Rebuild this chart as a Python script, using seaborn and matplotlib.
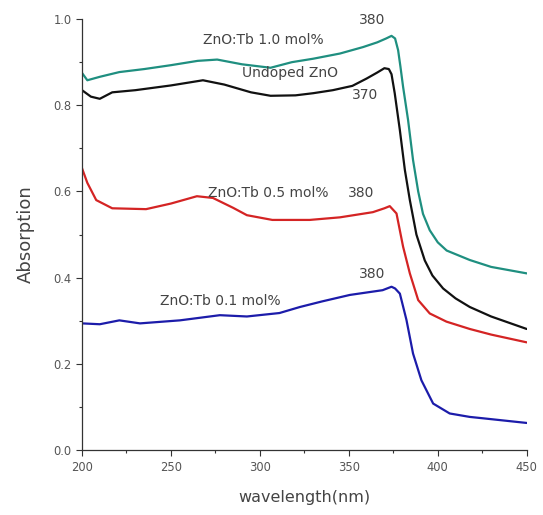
import matplotlib
matplotlib.use("Agg")
import matplotlib.pyplot as plt
import seaborn as sns
import pandas as pd
from matplotlib.ticker import MultipleLocator

sns.set_theme(style="ticks")
plt.rcParams['font.family'] = ['DejaVu Sans']

# ZnO:Tb 1.0 mol%
w_10 = [200, 203, 210, 221, 235, 250, 265, 276, 290, 306, 318, 330, 345, 358, 366, 371, 374,
        376, 377.7, 379, 380.5, 383.3, 386.1, 389, 391.7, 395.5, 400, 405, 418, 430, 450]
a_10 = [0.875, 0.858, 0.866, 0.877, 0.884, 0.893, 0.903, 0.906, 0.895, 0.887, 0.900, 0.908,
        0.920, 0.935, 0.946, 0.955, 0.961, 0.955, 0.928, 0.890, 0.843, 0.766, 0.673, 0.600,
        0.548, 0.510, 0.482, 0.463, 0.441, 0.425, 0.410]

# Undoped ZnO
w_un = [200, 205, 210, 217, 230, 250, 268, 280, 295, 306, 320, 330, 341, 352, 360, 366, 370,
        372.5, 374, 375.8, 378.7, 381.5, 384.3, 388, 392.7, 397, 403, 410, 418, 430, 450]
a_un = [0.835, 0.820, 0.815, 0.830, 0.835, 0.846, 0.858, 0.848, 0.830, 0.822, 0.823, 0.828,
        0.835, 0.845, 0.862, 0.876, 0.886, 0.884, 0.872, 0.828, 0.742, 0.650, 0.580, 0.500,
        0.440, 0.405, 0.375, 0.352, 0.332, 0.310, 0.281]

# ZnO:Tb 0.5 mol%
w_05 = [200, 203, 208, 217, 236, 250, 264.6, 273.6, 285, 292.7, 307, 328, 345, 363.5, 370,
        373, 376.8, 380.5, 384.3, 389, 395.5, 404.9, 418, 430, 450]
a_05 = [0.654, 0.620, 0.580, 0.561, 0.559, 0.572, 0.589, 0.585, 0.562, 0.545, 0.534, 0.534,
        0.540, 0.552, 0.561, 0.566, 0.549, 0.472, 0.410, 0.348, 0.317, 0.298, 0.281, 0.268, 0.250]

# ZnO:Tb 0.1 mol%
w_01 = [200, 210, 221, 232.6, 255, 277.5, 292.7, 311, 322.5, 335, 350.6, 369, 374, 376, 378.7,
        382.4, 386.1, 390.8, 397.4, 406.7, 418, 425, 450]
a_01 = [0.294, 0.292, 0.301, 0.294, 0.301, 0.313, 0.310, 0.318, 0.332, 0.345, 0.360, 0.371,
        0.379, 0.375, 0.363, 0.302, 0.224, 0.162, 0.108, 0.085, 0.077, 0.074, 0.063]

x_ticks = [200, 250, 300, 350, 400, 450]
y_ticks = [0.0, 0.2, 0.4, 0.6, 0.8, 1.0]

fig = plt.figure(figsize=(5.43, 5.15), dpi=100)
ax = fig.add_axes([0.151, 0.126, 0.819, 0.837])

series = [(w_10, a_10, "#1f8f80"), (w_un, a_un, "#111111"),
          (w_05, a_05, "#d42424"), (w_01, a_01, "#1c1caa")]
for w, a, c in series:
    df = pd.DataFrame({"w": w, "a": a})
    sns.lineplot(data=df, x="w", y="a", color=c, linewidth=1.6, ax=ax,
                 solid_joinstyle="round", solid_capstyle="round")

ax.set_xlim(200, 450)
ax.set_ylim(0, 1.0)
ax.set_xticks(x_ticks)
ax.set_yticks(y_ticks)
ax.xaxis.set_minor_locator(MultipleLocator(25))
ax.yaxis.set_minor_locator(MultipleLocator(0.1))
ax.set_xticklabels([str(t) for t in x_ticks])
ax.set_yticklabels([f"{t:.1f}" for t in y_ticks])
ax.tick_params(axis="both", which="major", direction="out", length=4, width=0.8,
               labelsize=8.3, colors="#333333")
ax.tick_params(axis="both", which="minor", direction="out", length=2.5, width=0.8, colors="#333333")
for lab in ax.get_xticklabels() + ax.get_yticklabels():
    lab.set_color("#555555")
for s in ["top", "right"]:
    ax.spines[s].set_visible(False)
for s in ["left", "bottom"]:
    ax.spines[s].set_color("#333333")
    ax.spines[s].set_linewidth(0.9)

ax.set_xlabel("wavelength(nm)", fontsize=11.5, color="#444444", labelpad=12)
ax.set_ylabel("Absorption", fontsize=13, color="#444444", labelpad=13)

tc = "#444444"
fs = 10
ax.text(363, 0.998, "380", ha="center", va="center", fontsize=fs, color=tc)
ax.text(301.7, 0.951, "ZnO:Tb 1.0 mol%", ha="center", va="center", fontsize=fs, color=tc)
ax.text(317, 0.875, "Undoped ZnO", ha="center", va="center", fontsize=fs, color=tc)
ax.text(359, 0.824, "370", ha="center", va="center", fontsize=fs, color=tc)
ax.text(304.5, 0.596, "ZnO:Tb 0.5 mol%", ha="center", va="center", fontsize=fs, color=tc)
ax.text(357, 0.596, "380", ha="center", va="center", fontsize=fs, color=tc)
ax.text(363, 0.408, "380", ha="center", va="center", fontsize=fs, color=tc)
ax.text(277.5, 0.346, "ZnO:Tb 0.1 mol%", ha="center", va="center", fontsize=fs, color=tc)

fig.savefig("out.png", dpi=100)
